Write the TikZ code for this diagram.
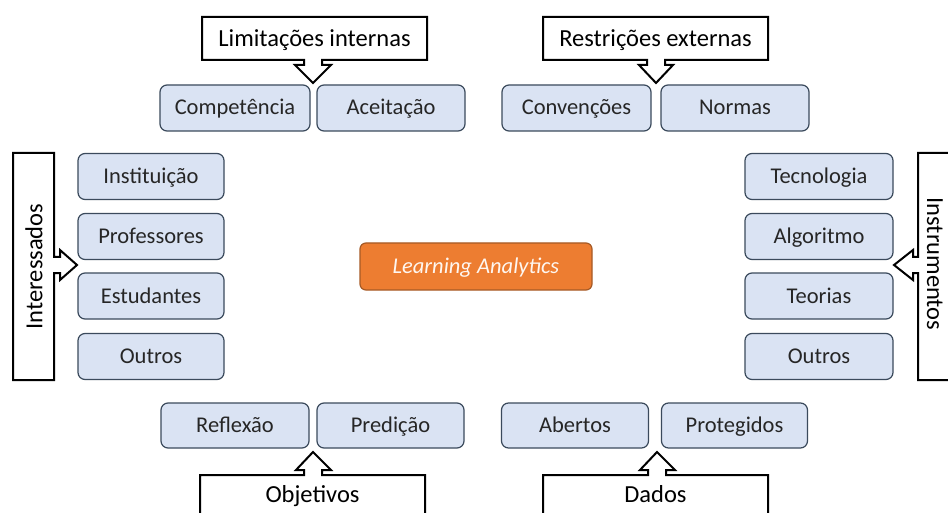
\documentclass[tikz,border=0pt]{standalone}
\usepackage{fontspec}
\setmainfont{Carlito}
\definecolor{boxfill}{HTML}{DAE3F3}
\definecolor{boxline}{HTML}{3B4A5C}
\definecolor{laorange}{HTML}{ED7D31}
\definecolor{laline}{HTML}{A65A26}
\definecolor{txt}{HTML}{262626}
\tikzset{
  item/.style={draw=boxline, fill=boxfill, rounded corners=7pt, line width=1.2pt,
    minimum width=147pt, minimum height=46pt, inner sep=0pt, text=txt,
    text height=17pt, text depth=3pt,
    font=\fontsize{22.5}{27}\selectfont},
  callout/.style={draw=black, fill=white, line width=2pt, line join=miter},
  calltext/.style={font=\fontsize{24.5}{29}\selectfont, text=black, inner sep=0pt},
  center/.style={draw=laline, fill=laorange, rounded corners=6pt, line width=1.2pt,
    minimum width=232pt, minimum height=47pt, inner sep=0pt, text=white!93!laorange,
    text height=16pt, text depth=1.5pt,
    font=\fontsize{22.5}{27}\selectfont\itshape}
}
\begin{document}
\begin{tikzpicture}[x=1pt,y=-1pt]
\useasboundingbox (0,0) rectangle (948,513);
\fill[white] (0,0) rectangle (948,513);
\clip (0,0) rectangle (948,513);

% callouts
\draw[callout] (202,17) -- (427,17) -- (427,60) -- (322,60) -- (322,65) -- (331,65) -- (313,83)
  -- (295,65) -- (304,65) -- (304,60) -- (202,60) -- cycle;
\node[calltext, anchor=base] (lim) at (314.5,47) {Limitações internas};

\draw[callout] (543,17) -- (768,17) -- (768,60) -- (665,60) -- (665,65) -- (673,65) -- (656,83)
  -- (639,65) -- (647,65) -- (647,60) -- (543,60) -- cycle;
\node[calltext, anchor=base] (res) at (655.5,47) {Restrições externas};

\draw[callout] (13,153) -- (54,153) -- (54,257) -- (60,257) -- (60,250) -- (77,265)
  -- (60,280) -- (60,273) -- (54,273) -- (54,380) -- (13,380) -- cycle;
\node[calltext, rotate=90] (int) at (34,266.5) {Interessados};

\draw[callout] (975,153) -- (918,153) -- (918,257) -- (913,257) -- (913,250) -- (894,265)
  -- (913,280) -- (913,273) -- (918,273) -- (918,380) -- (975,380) -- cycle;
\node[calltext, rotate=-90] (ins) at (935,264) {Instrumentos};

\draw[callout] (200,530) -- (200,475) -- (304,475) -- (304,470) -- (296,470) -- (313,452)
  -- (331,470) -- (322,470) -- (322,475) -- (425,475) -- (425,530) -- cycle;
\node[calltext, anchor=base] (obj) at (312.5,502.5) {Objetivos};

\draw[callout] (543,530) -- (543,475) -- (648,475) -- (648,470) -- (640,470) -- (657,452)
  -- (675,470) -- (666,470) -- (666,475) -- (768,475) -- (768,530) -- cycle;
\node[calltext, anchor=base] (dad) at (655.5,502) {Dados};

% top row
\node[item, minimum width=150pt] (comp) at (235,108) {Competência};
\node[item, minimum width=148pt] (acei) at (391,108) {Aceitação};
\node[item, minimum width=149pt] (conv) at (576.5,108) {Convenções};
\node[item, minimum width=148pt] (norm) at (735,108) {Normas};

% left column
\node[item, minimum width=146pt] (inst) at (151,176.5) {Instituição};
\node[item, minimum width=146pt] (prof) at (151,236.5) {Professores};
\node[item, minimum width=146pt] (estu) at (151,296) {Estudantes};
\node[item, minimum width=146pt] (outl) at (151,356.5) {Outros};

% right column
\node[item, minimum width=148pt] (tecn) at (819,176.5) {Tecnologia};
\node[item, minimum width=148pt] (algo) at (819,236.5) {Algoritmo};
\node[item, minimum width=148pt] (teor) at (819,296) {Teorias};
\node[item, minimum width=148pt] (outr) at (819,356.5) {Outros};

% bottom row
\node[item, minimum width=148pt, minimum height=45pt] (refl) at (235,425.5) {Reflexão};
\node[item, minimum width=147pt, minimum height=45pt] (pred) at (390.5,425.5) {Predição};
\node[item, minimum width=147pt, minimum height=45pt] (aber) at (575,425.5) {Abertos};
\node[item, minimum width=146pt, minimum height=45pt] (prot) at (734.5,425.5) {Protegidos};

% centre
\node[center] (la) at (476,266.5) {Learning Analytics};
\end{tikzpicture}
\end{document}
